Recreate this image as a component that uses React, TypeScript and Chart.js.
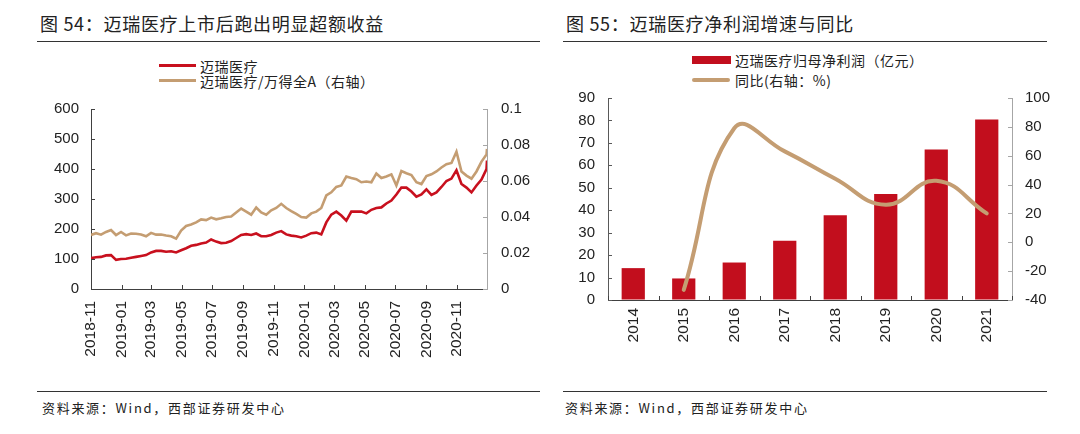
import React, { useEffect, useRef } from 'react';
import { Chart, registerables } from 'chart.js';

Chart.register(...registerables);

// ---------- Figure 54 data ----------
const xTickLabels = ['2018-11', '2019-01', '2019-03', '2019-05', '2019-07', '2019-09', '2019-11', '2020-01', '2020-03', '2020-05', '2020-07', '2020-09', '2020-11'];

const priceDates = [
  '2018-11-01', '2018-11-11', '2018-11-21', '2018-12-01', '2018-12-11', '2018-12-21', '2018-12-31', '2019-01-10', '2019-01-20', '2019-01-30',
  '2019-02-09', '2019-02-19', '2019-03-01', '2019-03-11', '2019-03-21', '2019-03-31', '2019-04-10', '2019-04-20', '2019-04-30', '2019-05-10',
  '2019-05-20', '2019-05-30', '2019-06-09', '2019-06-19', '2019-06-29', '2019-07-09', '2019-07-19', '2019-07-29', '2019-08-08', '2019-08-18',
  '2019-08-28', '2019-09-07', '2019-09-17', '2019-09-27', '2019-10-07', '2019-10-17', '2019-10-27', '2019-11-06', '2019-11-16', '2019-11-26',
  '2019-12-06', '2019-12-16', '2019-12-26', '2020-01-05', '2020-01-15', '2020-01-25', '2020-02-04', '2020-02-14', '2020-02-24', '2020-03-05',
  '2020-03-15', '2020-03-25', '2020-04-04', '2020-04-14', '2020-04-24', '2020-05-04', '2020-05-14', '2020-05-24', '2020-06-03', '2020-06-13',
  '2020-06-23', '2020-07-03', '2020-07-13', '2020-07-23', '2020-08-02', '2020-08-12', '2020-08-22', '2020-09-01', '2020-09-11', '2020-09-21',
  '2020-10-01', '2020-10-11', '2020-10-21', '2020-10-31', '2020-11-10', '2020-11-20', '2020-11-30', '2020-12-10', '2020-12-20', '2020-12-30',
  '2020-12-31',
];

const mindrayPrice = [
  103, 106, 107, 112, 113, 97, 100, 101, 104, 107,
  110, 113, 122, 127, 127, 124, 126, 122, 129, 136,
  144, 147, 152, 155, 165, 158, 153, 154, 160, 170,
  180, 183, 180, 185, 176, 176, 180, 188, 193, 182,
  178, 176, 172, 178, 186, 188, 182, 222, 248, 258,
  245, 228, 258, 258, 258, 252, 264, 270, 272, 285,
  295, 315, 338, 338, 325, 308, 315, 332, 314, 322,
  340, 360, 368, 396, 350, 338, 322, 345, 365, 400,
  428,
];

const relativeToWindA = [
  0.0300, 0.0310, 0.0302, 0.0317, 0.0328, 0.0300, 0.0317, 0.0298, 0.0308, 0.0307,
  0.0303, 0.0293, 0.0312, 0.0302, 0.0303, 0.0297, 0.0293, 0.0280, 0.0325, 0.0350,
  0.0358, 0.0370, 0.0387, 0.0383, 0.0397, 0.0387, 0.0393, 0.0400, 0.0403, 0.0425,
  0.0447, 0.0430, 0.0413, 0.0453, 0.0425, 0.0413, 0.0437, 0.0450, 0.0473, 0.0450,
  0.0433, 0.0417, 0.0400, 0.0397, 0.0420, 0.0430, 0.0450, 0.0520, 0.0537, 0.0567,
  0.0575, 0.0625, 0.0617, 0.0610, 0.0593, 0.0597, 0.0593, 0.0642, 0.0617, 0.0625,
  0.0637, 0.0575, 0.0655, 0.0643, 0.0633, 0.0593, 0.0583, 0.0627, 0.0637, 0.0653,
  0.0675, 0.0693, 0.0700, 0.0763, 0.0653, 0.0630, 0.0613, 0.0653, 0.0708, 0.0747,
  0.0778,
];

// ---------- Figure 55 data ----------
const years = ['2014', '2015', '2016', '2017', '2018', '2019', '2020', '2021'];
const netProfit = [14.2, 9.6, 16.7, 26.4, 37.8, 47.2, 67.1, 80.4];
const yoyGrowth = [null, -33, 79, 63, 44, 26, 42.6, 20];

// ---------- styles ----------
const RED = '#C8101E';
const TAN = '#C49D72';
const BAR_RED = '#C20E1D';
const TEXT = '#222222';
const FONT = '"Liberation Sans", Arial, sans-serif';
const CJK = '"Noto Sans CJK SC", "Noto Sans", sans-serif';

const dayIndex = (s: string) => {
  const [y, m, d] = s.split('-').map(Number);
  return Date.UTC(y, m - 1, d) / 86400000;
};
const baseDay = dayIndex(priceDates[0]);
const toDay = (s: string) => dayIndex(s) - baseDay;

type TickCfg = { id: string; side: 'left' | 'right' | 'bottom'; color: string; between?: boolean };

function innerTicksPlugin(list: TickCfg[], len = 4) {
  return {
    id: 'innerTicks',
    afterDraw(chart: any) {
      const { ctx, chartArea: a } = chart;
      ctx.save();
      ctx.lineWidth = 1;
      for (const cfg of list) {
        const s = chart.scales[cfg.id];
        ctx.strokeStyle = cfg.color;
        ctx.beginPath();
        if (cfg.side === 'bottom') {
          let xs: number[] = [];
          if (cfg.between) {
            const n = s.ticks.length;
            for (let i = 0; i <= n; i++) xs.push(s.left + (i * s.width) / n);
          } else {
            xs = s.ticks.map((_t: any, i: number) => s.getPixelForTick(i));
          }
          for (const x of xs) {
            const px = Math.round(x) + 0.5;
            ctx.moveTo(px, a.bottom);
            ctx.lineTo(px, a.bottom - len);
          }
        } else {
          s.ticks.forEach((_t: any, i: number) => {
            const py = Math.round(s.getPixelForTick(i)) + 0.5;
            if (cfg.side === 'left') {
              ctx.moveTo(a.left, py);
              ctx.lineTo(a.left + len, py);
            } else {
              ctx.moveTo(a.right, py);
              ctx.lineTo(a.right - len, py);
            }
          });
        }
        ctx.stroke();
      }
      ctx.restore();
    },
  };
}

function LeftChart() {
  const ref = useRef<HTMLCanvasElement>(null);
  useEffect(() => {
    if (!ref.current) return;
    const tickDays = xTickLabels.map((l) => toDay(l + '-01'));
    const lastDay = toDay(priceDates[priceDates.length - 1]);
    const chart = new Chart(ref.current, {
      type: 'line',
      data: {
        datasets: [
          {
            label: '迈瑞医疗',
            data: priceDates.map((d, i) => ({ x: toDay(d), y: mindrayPrice[i] })),
            borderColor: RED,
            borderWidth: 2.6,
            pointRadius: 0,
            yAxisID: 'y',
          },
          {
            label: '迈瑞医疗/万得全A（右轴）',
            data: priceDates.map((d, i) => ({ x: toDay(d), y: relativeToWindA[i] })),
            borderColor: TAN,
            borderWidth: 2.6,
            pointRadius: 0,
            yAxisID: 'y1',
          },
        ],
      },
      options: {
        responsive: false,
        animation: false,
        layout: { padding: { top: 18, left: 0, right: 0, bottom: 0 } },
        plugins: { legend: { display: false }, tooltip: { enabled: false } },
        scales: {
          x: {
            type: 'linear',
            min: 0,
            max: lastDay,
            afterBuildTicks: (scale: any) => {
              scale.ticks = tickDays.map((v) => ({ value: v }));
            },
            afterFit: (scale: any) => {
              scale.height = 101;
            },
            ticks: {
              autoSkip: false,
              minRotation: 90,
              maxRotation: 90,
              padding: 12,
              color: TEXT,
              font: { family: FONT, size: 15.5 },
              callback: (v: any) => {
                const i = tickDays.indexOf(Number(v));
                return i >= 0 ? xTickLabels[i] : '';
              },
            },
            grid: { display: true, drawOnChartArea: false, drawTicks: false },
            border: { display: true, color: '#404040', width: 1 },
          },
          y: {
            position: 'left',
            min: 0,
            max: 600,
            ticks: { stepSize: 100, padding: 12, color: TEXT, font: { family: FONT, size: 15 } },
            afterFit: (scale: any) => {
              scale.width = 71;
            },
            grid: { display: true, drawOnChartArea: false, drawTicks: false },
            border: { display: true, color: '#404040', width: 1 },
          },
          y1: {
            position: 'right',
            min: 0,
            max: 0.1,
            ticks: {
              stepSize: 0.02,
              padding: 14,
              color: TEXT,
              font: { family: FONT, size: 15 },
              callback: (v: any) => String(+Number(v).toFixed(2)),
            },
            afterFit: (scale: any) => {
              scale.width = 63;
            },
            grid: { display: true, drawOnChartArea: false, drawTicks: false },
            border: { display: true, color: '#a6a6a6', width: 1 },
          },
        },
      },
      plugins: [
        innerTicksPlugin([
          { id: 'y', side: 'left', color: '#404040' },
          { id: 'y1', side: 'right', color: '#a6a6a6' },
          { id: 'x', side: 'bottom', color: '#404040' },
        ]),
      ],
    } as any);
    return () => chart.destroy();
  }, []);
  return <canvas ref={ref} width={530} height={304} style={{ position: 'absolute', left: 20, top: 86, width: 530, height: 304 }} />;
}

function RightChart() {
  const ref = useRef<HTMLCanvasElement>(null);
  useEffect(() => {
    if (!ref.current) return;
    const chart = new Chart(ref.current, {
      type: 'bar',
      data: {
        labels: years,
        datasets: [
          {
            type: 'line',
            label: '同比(右轴：%)',
            data: yoyGrowth,
            borderColor: TAN,
            borderWidth: 4,
            borderCapStyle: 'round',
            pointRadius: 0,
            tension: 0.45,
            yAxisID: 'y1',
            spanGaps: false,
          },
          {
            type: 'bar',
            label: '迈瑞医疗归母净利润（亿元）',
            data: netProfit,
            backgroundColor: BAR_RED,
            barPercentage: 0.46,
            categoryPercentage: 1,
            yAxisID: 'y',
          },
        ],
      },
      options: {
        responsive: false,
        animation: false,
        layout: { padding: { top: 12, left: 0, right: 0, bottom: 0 } },
        plugins: { legend: { display: false }, tooltip: { enabled: false } },
        scales: {
          x: {
            ticks: {
              autoSkip: false,
              minRotation: 90,
              maxRotation: 90,
              padding: 8,
              color: TEXT,
              font: { family: FONT, size: 15.5 },
            },
            afterFit: (scale: any) => {
              scale.height = 85;
            },
            grid: { display: true, drawOnChartArea: false, drawTicks: false },
            border: { display: true, color: '#404040', width: 1 },
          },
          y: {
            position: 'left',
            min: 0,
            max: 90,
            ticks: { stepSize: 10, padding: 13, color: TEXT, font: { family: FONT, size: 15 } },
            afterFit: (scale: any) => {
              scale.width = 53;
            },
            grid: { display: true, drawOnChartArea: false, drawTicks: false },
            border: { display: true, color: '#595959', width: 1 },
          },
          y1: {
            position: 'right',
            min: -40,
            max: 100,
            ticks: { stepSize: 20, padding: 13, color: TEXT, font: { family: FONT, size: 15 } },
            afterFit: (scale: any) => {
              scale.width = 48;
            },
            grid: { display: true, drawOnChartArea: false, drawTicks: false },
            border: { display: true, color: '#a6a6a6', width: 1 },
          },
        },
      },
      plugins: [
        innerTicksPlugin([
          { id: 'y', side: 'left', color: '#595959' },
          { id: 'y1', side: 'right', color: '#a6a6a6' },
          { id: 'x', side: 'bottom', color: '#404040', between: true },
        ]),
      ],
    } as any);
    return () => chart.destroy();
  }, []);
  return <canvas ref={ref} width={505} height={309} style={{ position: 'absolute', left: 555, top: 76, width: 505, height: 309 }} />;
}

const abs = (o: React.CSSProperties): React.CSSProperties => ({ position: 'absolute', ...o });

export default function App() {
  const titleStyle: React.CSSProperties = { fontFamily: CJK, fontSize: 18, color: TEXT, letterSpacing: 0.7, lineHeight: '22px', whiteSpace: 'nowrap' };
  const legendStyle: React.CSSProperties = { fontFamily: CJK, fontSize: 14, color: TEXT, lineHeight: '16px', letterSpacing: 0.5, whiteSpace: 'nowrap' };
  const sourceStyle: React.CSSProperties = { fontFamily: CJK, fontSize: 13, color: TEXT, lineHeight: '16px', letterSpacing: 1.7, whiteSpace: 'nowrap' };
  return (
    <div style={abs({ left: 0, top: 0, width: 1080, height: 434, background: '#fff', overflow: 'hidden' })}>
      {/* Left panel */}
      <div style={abs({ left: 40, top: 12, ...titleStyle })}>图 54：迈瑞医疗上市后跑出明显超额收益</div>
      <div style={abs({ left: 37, top: 41, width: 503, height: 1, background: '#333' })} />
      <div style={abs({ left: 159, top: 64, width: 37, height: 3, background: RED })} />
      <div style={abs({ left: 200, top: 58, ...legendStyle })}>迈瑞医疗</div>
      <div style={abs({ left: 159, top: 79, width: 37, height: 3, background: TAN })} />
      <div style={abs({ left: 200, top: 73, ...legendStyle })}>迈瑞医疗/万得全A（右轴）</div>
      <LeftChart />
      <div style={abs({ left: 37, top: 391, width: 503, height: 1, background: '#333' })} />
      <div style={abs({ left: 42, top: 400, ...sourceStyle })}>资料来源：Wind，西部证券研发中心</div>

      {/* Right panel */}
      <div style={abs({ left: 566, top: 12, ...titleStyle })}>图 55：迈瑞医疗净利润增速与同比</div>
      <div style={abs({ left: 563, top: 41, width: 484, height: 1, background: '#333' })} />
      <div style={abs({ left: 692, top: 56, width: 39, height: 8, background: BAR_RED })} />
      <div style={abs({ left: 735, top: 52, ...legendStyle })}>迈瑞医疗归母净利润（亿元）</div>
      <div style={abs({ left: 692, top: 77.5, width: 38, height: 4, background: TAN, borderRadius: 2 })} />
      <div style={abs({ left: 735, top: 72, ...legendStyle })}>同比(右轴：%)</div>
      <RightChart />
      <div style={abs({ left: 563, top: 391, width: 484, height: 1, background: '#333' })} />
      <div style={abs({ left: 565, top: 400, ...sourceStyle })}>资料来源：Wind，西部证券研发中心</div>
    </div>
  );
}
